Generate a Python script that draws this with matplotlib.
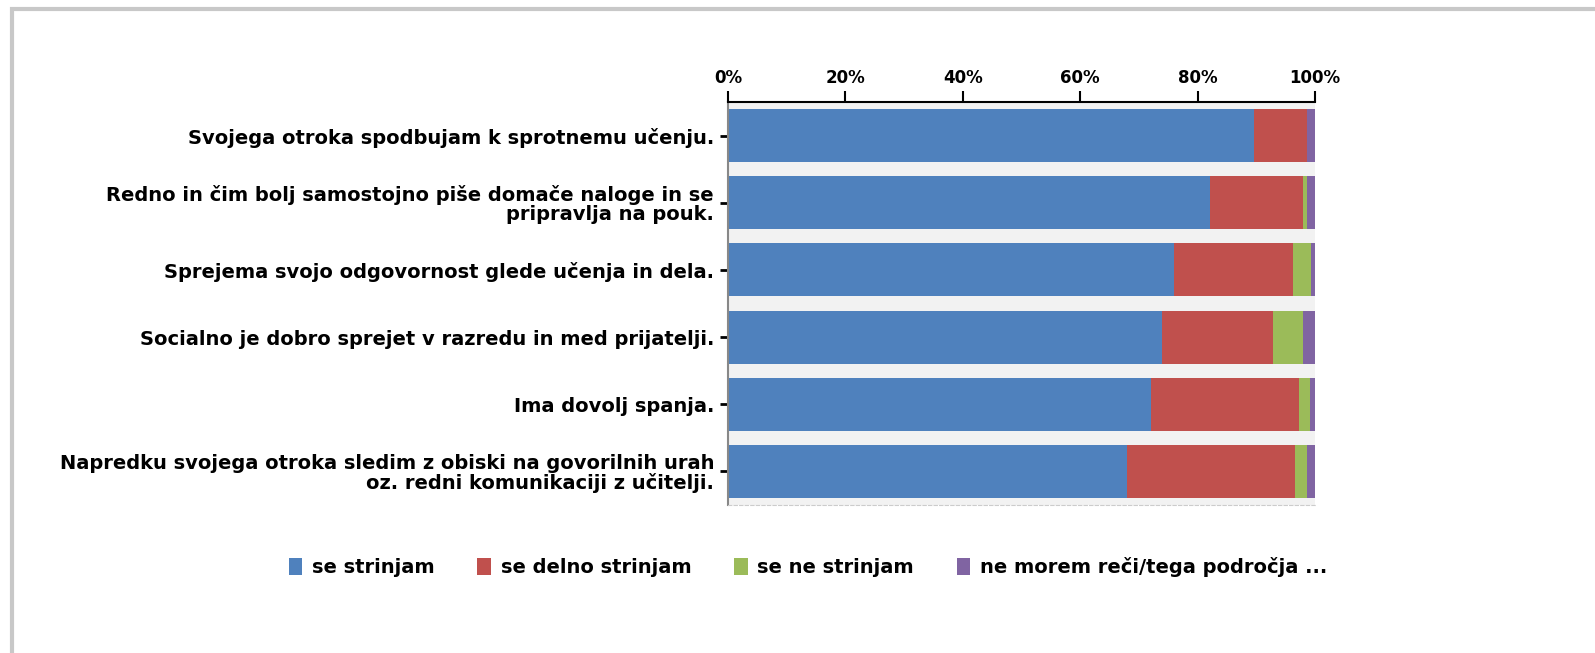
import numpy as np
import matplotlib
matplotlib.use("Agg")
from matplotlib import pyplot as plt
from matplotlib.patches import Rectangle

questions = [
    "Svojega otroka spodbujam k sprotnemu učenju.",
    "Redno in čim bolj samostojno piše domače naloge in se\npripravlja na pouk.",
    "Sprejema svojo odgovornost glede učenja in dela.",
    "Socialno je dobro sprejet v razredu in med prijatelji.",
    "Ima dovolj spanja.",
    "Napredku svojega otroka sledim z obiski na govorilnih urah\noz. redni komunikaciji z učitelji.",
]
series_names = ["se strinjam", "se delno strinjam", "se ne strinjam",
                "ne morem reči/tega področja ..."]
strinjam = [89.6, 82.1, 75.9, 73.9, 72.1, 68.0]
delno = [9.0, 15.8, 20.3, 18.9, 25.1, 28.6]
ne_strinjam = [0.0, 0.7, 3.1, 5.2, 1.9, 2.0]
ne_morem = [1.4, 1.4, 0.7, 2.0, 0.9, 1.4]
colors = ["#4F81BD", "#C0504D", "#9BBB59", "#8064A2"]
x_ticks = [0, 20, 40, 60, 80, 100]

plt.rcParams['font.family'] = ['DejaVu Sans']
plt.rcParams['font.weight'] = 'bold'

fig = plt.figure(figsize=(15.95, 6.53), dpi=100)
ax = fig.add_axes([728 / 1595, 1 - 505 / 653, 587 / 1595, 403 / 653])

# outer frame (only left and top visible in the reference)
fig.patches.append(Rectangle((12 / 1595, -0.1), 1.2, (1 - 9 / 653) + 0.1,
                             transform=fig.transFigure, fill=False,
                             edgecolor="#c8c8c8", linewidth=3))

y = np.arange(len(questions))
left = np.zeros(len(questions))
for vals, name, c in zip([strinjam, delno, ne_strinjam, ne_morem], series_names, colors):
    ax.barh(y, vals, left=left, height=0.79, color=c, label=name)
    left += np.array(vals)

ax.set_facecolor("#f2f2f2")
ax.set_xlim(0, 100)
ax.set_ylim(len(questions) - 0.5, -0.5)
ax.xaxis.tick_top()
ax.set_xticks(x_ticks)
ax.set_xticklabels([f"{t}%" for t in x_ticks])
ax.set_yticks(y)
ax.set_yticklabels(questions, linespacing=1.0)
ax.tick_params(axis="x", length=8, width=1.5, labelsize=12, pad=3)
ax.tick_params(axis="y", length=6, width=2, labelsize=14, pad=4)

ax.spines["right"].set_visible(False)
ax.spines["top"].set_linewidth(1.5)
ax.spines["left"].set_color("#888888")
ax.spines["left"].set_linewidth(1.5)
ax.spines["bottom"].set_color("#cccccc")
ax.spines["bottom"].set_linestyle((0, (3, 2)))

fig.legend(loc="center", bbox_to_anchor=(808 / 1595, 1 - 567 / 653), ncol=4,
           frameon=False, fontsize=14, handlelength=0.7, handleheight=1.0,
           handletextpad=0.5, columnspacing=2.2)

plt.savefig("out.png", dpi=100)
